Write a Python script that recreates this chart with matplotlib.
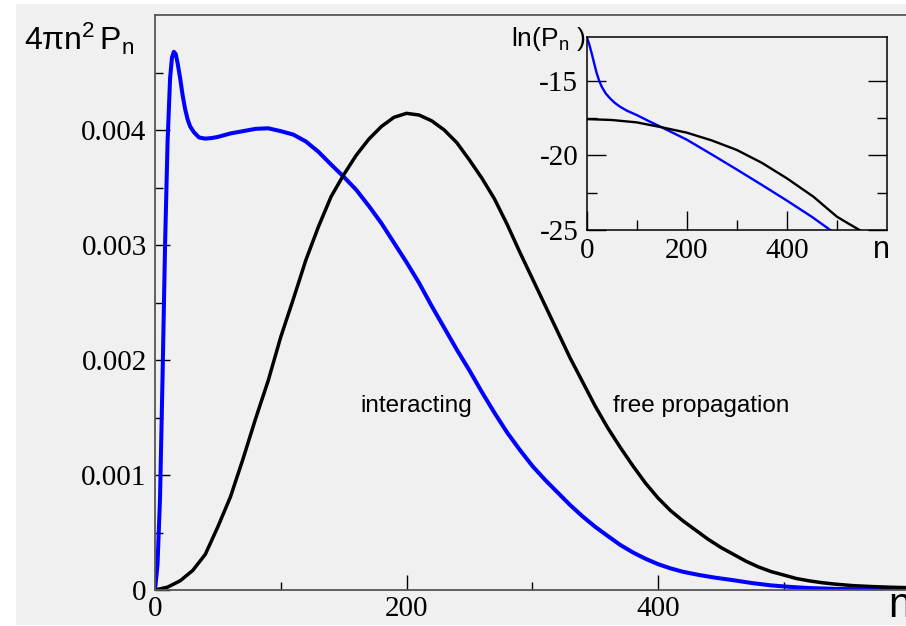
import matplotlib
matplotlib.use("Agg")
import matplotlib.pyplot as plt
from matplotlib.patches import Rectangle
from matplotlib.ticker import FixedLocator, FuncFormatter

plt.rcParams['mathtext.fontset'] = 'custom'
plt.rcParams['mathtext.rm'] = 'Liberation Sans'
plt.rcParams['mathtext.it'] = 'Liberation Sans'
plt.rcParams['mathtext.sf'] = 'Liberation Sans'

# ---------------- data ----------------
# main panel: 4*pi*n^2*P_n versus n
n_inter = [0, 2, 4, 6, 8, 10, 12, 13.5, 15, 16.5, 18, 20, 22, 24, 26, 28, 31, 35,
           40, 45, 50, 60, 70, 80, 90, 100, 110, 120, 130, 140, 150, 160, 170,
           180, 190, 200, 210, 220, 230, 240, 250, 260, 270, 280, 290, 300, 310,
           320, 330, 340, 350, 360, 370, 380, 390, 400, 410, 420, 433, 445, 460,
           475, 490, 505, 520, 540, 570, 600]
p_inter = [0, 0.00022, 0.0008, 0.00185, 0.0030, 0.0039, 0.00445, 0.00463,
           0.00468, 0.00466, 0.00458, 0.00445, 0.0043, 0.00418, 0.00409,
           0.00403, 0.00398, 0.003935, 0.003925, 0.00393, 0.00394, 0.00397,
           0.00399, 0.00401, 0.004015, 0.00399, 0.00396, 0.0039, 0.00381,
           0.0037, 0.003594, 0.00348, 0.00334, 0.00319, 0.00302, 0.00285,
           0.00267, 0.00247, 0.00228, 0.00209, 0.00191, 0.00172, 0.00154,
           0.00137, 0.00122, 0.00108, 0.00096, 0.00085, 0.00074, 0.00064,
           0.00055, 0.00047, 0.000392, 0.000327, 0.000272, 0.000225, 0.000188,
           0.000158, 0.00013, 0.000108, 0.000085, 0.00006, 0.00004, 0.000027,
           0.000017, 0.00001, 0.000004, 0]

n_free = [0, 10, 20, 30, 40, 50, 60, 70, 80, 90, 100, 110, 120, 130, 140, 150,
          160, 170, 180, 190, 200, 210, 220, 230, 240, 250, 260, 270, 280, 290,
          300, 310, 320, 330, 340, 350, 360, 370, 380, 390, 400, 410, 420, 430,
          440, 450, 460, 470, 480, 490, 500, 510, 520, 530, 540, 555, 570, 585,
          600]
p_free = [0, 0.000025, 0.00008, 0.00017, 0.00031, 0.00055, 0.00081, 0.00114,
          0.00149, 0.00182, 0.0022, 0.00253, 0.00287, 0.00316, 0.00342,
          0.00361, 0.00378, 0.00392, 0.00403, 0.00411, 0.004145, 0.00413,
          0.00408, 0.004, 0.00389, 0.00374, 0.00358, 0.0034, 0.00318, 0.00294,
          0.00271, 0.00248, 0.00225, 0.00202, 0.00181, 0.0016, 0.00141,
          0.00124, 0.00108, 0.00093, 0.0008, 0.00069, 0.0006, 0.00052,
          0.00044, 0.00037, 0.00031, 0.00025, 0.0002, 0.00016, 0.00013, 0.0001,
          0.00008, 0.000064, 0.000052, 0.000038, 0.00003, 0.000024, 0.00002]

# inset: ln(P_n) versus n
n_inter_ln = [0, 5, 10, 15, 20, 25, 30, 38, 46.6, 56, 66.6, 80, 100, 125, 150,
              200, 253, 300, 350, 400, 450, 486.6]
ln_inter = [-12.05, -12.55, -13.17, -13.85, -14.5, -15.0, -15.4, -15.85, -16.18,
            -16.48, -16.74, -17.0, -17.3, -17.72, -18.12, -18.95, -20.0, -20.95,
            -21.98, -23.03, -24.12, -25.0]

n_free_ln = [0, 50, 100, 150, 200, 250, 300, 350, 400, 425, 453, 475, 500, 522,
             545]
ln_free = [-17.57, -17.63, -17.79, -18.12, -18.48, -19.0, -19.64, -20.5, -21.54,
           -22.12, -22.77, -23.4, -24.11, -24.55, -25.0]

main_xticks = [0, 200, 400]
main_yticks = [0, 0.001, 0.002, 0.003, 0.004]
main_ylabels = ["0", "0.001", "0.002", "0.003", "0.004"]
inset_xticks = [0, 200, 400]
inset_yticks = [-25, -20, -15]

label_inter = "interacting"
label_free = "free propagation"

# ---------------- figure ----------------
W, H = 906, 626
fig = plt.figure(figsize=(W / 100, H / 100), dpi=100, facecolor="white")
BG = "#f0f0f0"
fig.patches.append(Rectangle((16 / W, 1 / H), 1 - 16 / W, 1 - 5 / H,
                             transform=fig.transFigure, facecolor=BG,
                             edgecolor="none", zorder=-10))

def fx(px):
    return px / W

def fy(py):
    return 1 - py / H

serif = "Liberation Serif"
sans = "Liberation Sans"

# main axes
x0, x1 = 155, 909.5
y0, y1 = 590, 15
ax = fig.add_axes([fx(x0), fy(y0), fx(x1) - fx(x0), fy(y1) - fy(y0)])
ax.set_facecolor("none")
ax.plot(n_inter, p_inter, color="#0000ff", lw=2.9, solid_joinstyle="round")
ax.plot(n_free, p_free, color="black", lw=2.5, solid_joinstyle="round")
ax.set_xlim(0, 600)
ax.set_ylim(0, 0.005)
for s in ax.spines.values():
    s.set_color("#555555")
    s.set_linewidth(1.3)
ax.xaxis.set_major_locator(FixedLocator(main_xticks))
ax.xaxis.set_minor_locator(FixedLocator([100, 300, 500]))
ax.yaxis.set_major_locator(FixedLocator(main_yticks))
ax.yaxis.set_minor_locator(FixedLocator([0.0005, 0.0015, 0.0025, 0.0035, 0.0045]))
ax.set_yticklabels(main_ylabels)
ax.tick_params(which="major", direction="in", length=11, width=1.0, color="black",
               top=False, right=False)
ax.tick_params(which="minor", direction="in", length=6, width=1.0, color="black",
               top=False, right=False)
ax.tick_params(axis="y", which="major", pad=6)
ax.tick_params(axis="x", which="major", pad=4)
for lab in ax.get_xticklabels() + ax.get_yticklabels():
    lab.set_fontfamily(serif)
    lab.set_fontsize(21)

fig.text(fx(24), fy(50), r"$4\pi\mathrm{n}^{2}\,\mathrm{P}_{\mathrm{n}}$",
         fontsize=23, ha="left", va="baseline")
fig.text(fx(888), fy(617), "n", fontfamily=sans, fontsize=30,
         ha="left", va="baseline")
fig.text(fx(360), fy(412), label_inter, fontfamily=sans, fontsize=17.5,
         ha="left", va="baseline")
fig.text(fx(613), fy(412), label_free, fontfamily=sans, fontsize=17.5,
         ha="left", va="baseline")

# inset axes
ix0, ix1 = 586.7, 887
iy0, iy1 = 230, 36.7
ins = fig.add_axes([fx(ix0), fy(iy0), fx(ix1) - fx(ix0), fy(iy1) - fy(iy0)])
ins.set_facecolor(BG)
ins.plot(n_inter_ln, ln_inter, color="#0000ff", lw=1.7, solid_joinstyle="round")
ins.plot(n_free_ln, ln_free, color="black", lw=1.7, solid_joinstyle="round")
ins.set_xlim(0, 600)
ins.set_ylim(-25, -12.05)
for s in ins.spines.values():
    s.set_color("black")
    s.set_linewidth(1.1)
ins.xaxis.set_major_locator(FixedLocator(inset_xticks))
ins.xaxis.set_minor_locator(FixedLocator([100, 300, 500]))
ins.yaxis.set_major_locator(FixedLocator(inset_yticks))
ins.yaxis.set_minor_locator(FixedLocator([-22.5, -17.5]))
ins.xaxis.set_major_formatter(FuncFormatter(lambda v, p: f"{int(v)}"))
ins.yaxis.set_major_formatter(FuncFormatter(lambda v, p: f"{int(v)}"))
ins.tick_params(which="major", direction="in", length=14, width=1.0,
                top=False, right=True)
ins.tick_params(which="minor", direction="in", length=7, width=1.0,
                top=False, right=True)
ins.tick_params(axis="y", which="major", pad=6)
ins.tick_params(axis="x", which="major", pad=6)
for lab in ins.get_xticklabels() + ins.get_yticklabels():
    lab.set_fontfamily(serif)
    lab.set_fontsize(21)

fig.text(fx(511), fy(46), r"$\mathrm{ln(P}_{\mathrm{n}}\ \mathrm{)}$",
         fontsize=19, ha="left", va="baseline")
fig.text(fx(873), fy(258), "n", fontfamily=sans, fontsize=22,
         ha="left", va="baseline")

fig.savefig("out.png", dpi=100, facecolor="white")
